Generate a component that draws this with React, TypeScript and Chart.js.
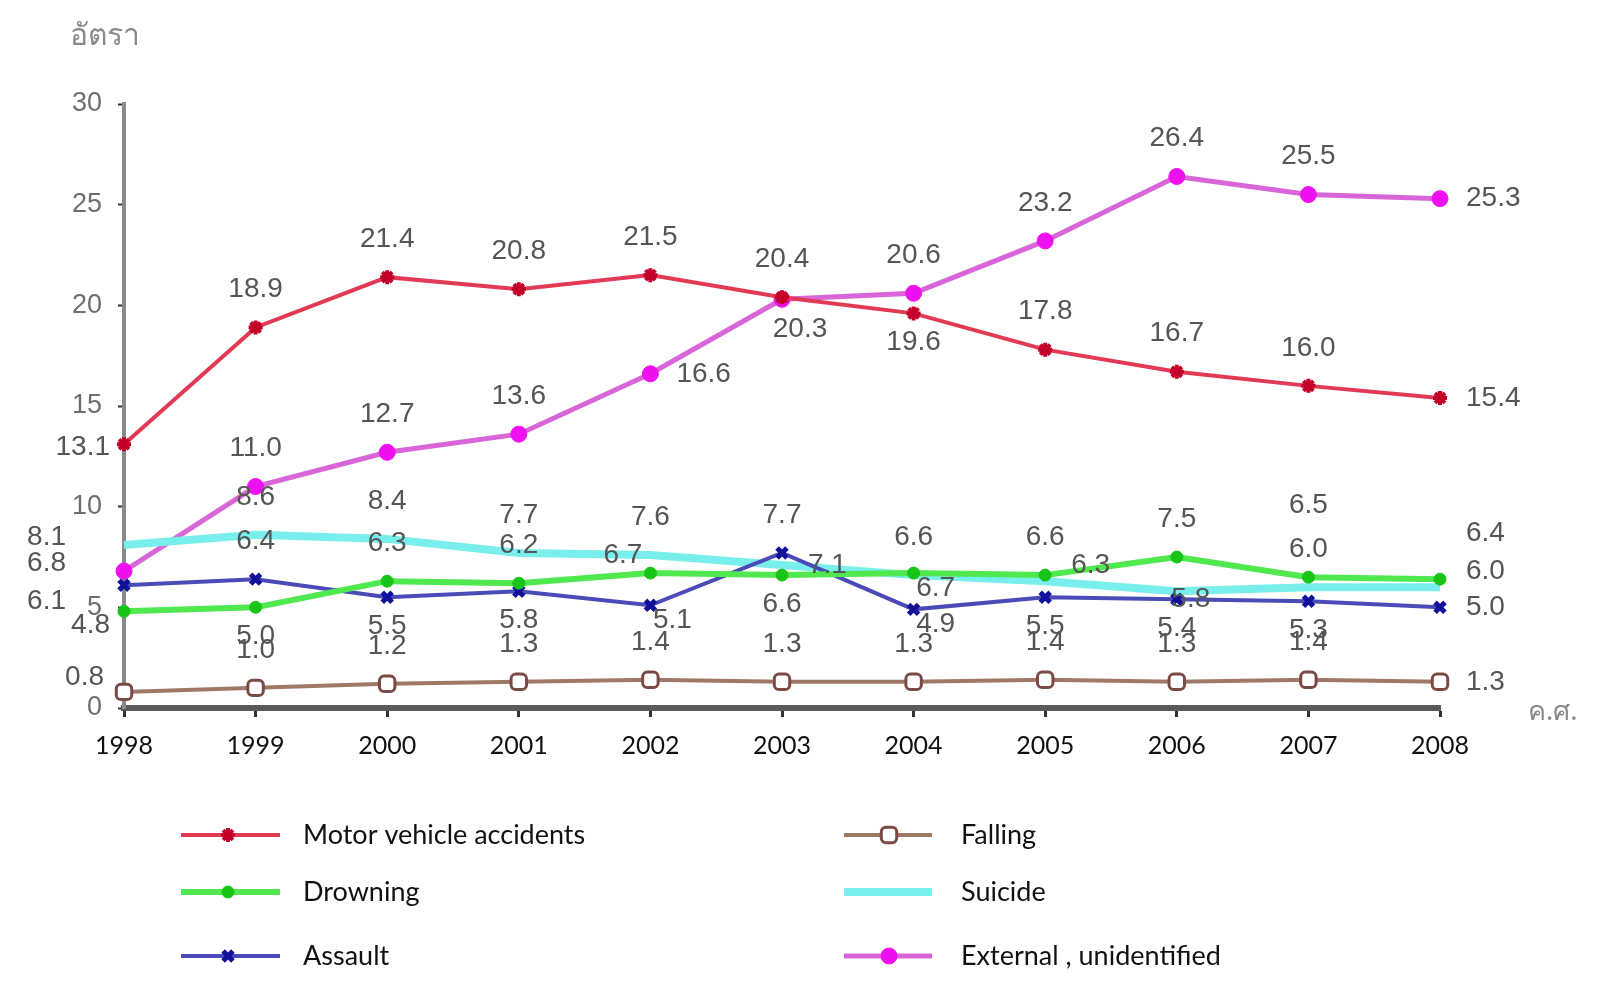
import React, { useEffect, useRef } from 'react';
import { Chart, registerables } from 'chart.js';
import { drawPoint } from 'chart.js/helpers';

Chart.register(...registerables);

const YEARS = ['1998', '1999', '2000', '2001', '2002', '2003', '2004', '2005', '2006', '2007', '2008'];
const MOTOR = [13.1, 18.9, 21.4, 20.8, 21.5, 20.4, 19.6, 17.8, 16.7, 16.0, 15.4];
const DROWNING = [4.8, 5.0, 6.3, 6.2, 6.7, 6.6, 6.7, 6.6, 7.5, 6.5, 6.4];
const ASSAULT = [6.1, 6.4, 5.5, 5.8, 5.1, 7.7, 4.9, 5.5, 5.4, 5.3, 5.0];
const FALLING = [0.8, 1.0, 1.2, 1.3, 1.4, 1.3, 1.3, 1.4, 1.3, 1.4, 1.3];
const SUICIDE = [8.1, 8.6, 8.4, 7.7, 7.6, 7.1, 6.6, 6.3, 5.8, 6.0, 6.0];
const EXTERNAL = [6.8, 11.0, 12.7, 13.6, 16.6, 20.3, 20.6, 23.2, 26.4, 25.5, 25.3];
const Y_TICKS = [0, 5, 10, 15, 20, 25, 30];
const Y_TITLE = 'อัตรา';
const X_TITLE = 'ค.ศ.';

// label placement codes: [dx, dy, align]
const CODES: Record<string, [number, number, CanvasTextAlign]> = {
  a: [0, -38, 'center'],
  A: [0, -72, 'center'],
  b: [0, 29, 'center'],
  bs: [22, 15, 'center'],
  bm: [18, 30, 'center'],
  c: [14, 8, 'center'],
  r: [26, 0, 'left'],
  rm: [26, -16, 'left'],
  R: [26, -46, 'left'],
  l: [-58, -8, 'right'],
  lb: [-58, 16, 'right'],
  ll: [-8, -18, 'right'],
  L: [-14, 3, 'right'],
  Lb: [-14, 14, 'right'],
  Lu: [-20, -15, 'right'],
};

const SERIES = [
  { name: 'Motor vehicle accidents', values: MOTOR, line: '#e23a55', lw: 4, ps: 'star', pr: 7, pf: '#c3002a', pb: '#c3002a', pbw: 4,
    place: ['L', 'a', 'a', 'a', 'a', 'a', 'b', 'a', 'a', 'a', 'r'] },
  { name: 'Drowning', values: DROWNING, line: '#4fe84f', lw: 6, ps: 'circle', pr: 6, pf: '#17c417', pb: '#17c417', pbw: 1,
    place: ['Lb', 'b', 'a', 'a', 'll', 'b', 'bs', 'a', 'a', 'A', 'R'] },
  { name: 'Assault', values: ASSAULT, line: '#4b4bb8', lw: 4, ps: 'crossRot', pr: 7, pf: '#10109a', pb: '#10109a', pbw: 5,
    place: ['lb', 'a', 'b', 'b', 'bs', 'a', 'bs', 'b', 'b', 'b', 'r'] },
  { name: 'Falling', values: FALLING, line: '#a07868', lw: 4, ps: 'rectRounded', pr: 9, pf: '#ffffff', pb: '#7a4a44', pbw: 3,
    place: ['Lu', 'a', 'a', 'a', 'a', 'a', 'a', 'a', 'a', 'a', 'r'] },
  { name: 'Suicide', values: SUICIDE, line: '#78efec', lw: 8, ps: 'circle', pr: 0, pf: '#78efec', pb: '#78efec', pbw: 0,
    place: ['l', 'a', 'a', 'a', 'a', 'r', 'a', 'rm', 'c', 'a', 'rm'] },
  { name: 'External , unidentified', values: EXTERNAL, line: '#d866d8', lw: 5, ps: 'circle', pr: 8, pf: '#ee10ee', pb: '#ee10ee', pbw: 1,
    place: ['l', 'a', 'a', 'a', 'r', 'bm', 'a', 'a', 'a', 'a', 'r'] },
];

const LEGEND_ROWS = [835, 892, 956];
const LEGEND_COLS = [
  { x0: 181, x1: 280, mx: 228, tx: 303, items: [0, 1, 2] },
  { x0: 844, x1: 932, mx: 889, tx: 961, items: [3, 4, 5] },
];

const fmt = (v: number) => v.toFixed(1);

export default function App() {
  const ref = useRef<HTMLCanvasElement>(null);
  useEffect(() => {
    document.body.style.margin = '0';
    const canvas = ref.current!;

    const labelsPlugin = {
      id: 'labelsPlugin',
      afterDatasetsDraw(chart: any) {
        const ctx = chart.ctx;
        ctx.save();
        ctx.font = '28px "Liberation Sans", Arial, sans-serif';
        ctx.fillStyle = '#555';
        ctx.textBaseline = 'middle';
        SERIES.forEach((s, di) => {
          const meta = chart.getDatasetMeta(di);
          meta.data.forEach((pt: any, i: number) => {
            const c = CODES[s.place[i]] || CODES.a;
            ctx.textAlign = c[2];
            ctx.fillText(fmt(s.values[i]), pt.x + c[0], pt.y + c[1]);
          });
        });
        ctx.restore();
      },
      afterDraw(chart: any) {
        const ctx = chart.ctx;
        ctx.save();
        // titles
        ctx.fillStyle = '#8a8a8a';
        ctx.textAlign = 'left';
        ctx.textBaseline = 'middle';
        ctx.font = '30px "Noto Sans", "DejaVu Sans", sans-serif';
        ctx.fillText(Y_TITLE, 70, 36);
        ctx.font = '27px "Noto Sans", "DejaVu Sans", sans-serif';
        ctx.fillText(X_TITLE, 1528, 712);
        // legend
        LEGEND_COLS.forEach((col) => {
          col.items.forEach((di, r) => {
            const s = SERIES[di];
            const y = LEGEND_ROWS[r];
            ctx.strokeStyle = s.line;
            ctx.lineWidth = s.lw;
            ctx.beginPath();
            ctx.moveTo(col.x0, y);
            ctx.lineTo(col.x1, y);
            ctx.stroke();
            if (s.pr > 0) {
              ctx.fillStyle = s.pf;
              ctx.strokeStyle = s.pb;
              ctx.lineWidth = s.pbw;
              drawPoint(ctx, { pointStyle: s.ps as any, radius: s.pr, rotation: 0, borderWidth: s.pbw }, col.mx, y);
            }
            ctx.fillStyle = '#111';
            ctx.font = '27px Lato, "Open Sans", sans-serif';
            ctx.textAlign = 'left';
            ctx.textBaseline = 'middle';
            ctx.fillText(s.name, col.tx, y);
          });
        });
        ctx.restore();
      },
    };

    const chart = new Chart(canvas, {
      type: 'line',
      data: {
        labels: YEARS,
        datasets: SERIES.map((s) => ({
          label: s.name,
          data: s.values,
          borderColor: s.line,
          backgroundColor: s.pf,
          borderWidth: s.lw,
          pointStyle: s.ps as any,
          pointRadius: s.pr,
          pointHoverRadius: s.pr,
          pointBackgroundColor: s.pf,
          pointBorderColor: s.pb,
          pointBorderWidth: s.pbw,
          tension: 0,
          clip: false as any,
        })),
      },
      options: {
        responsive: false,
        animation: false,
        devicePixelRatio: 1,
        layout: { padding: { left: 0, right: 182, top: 104, bottom: 0 } },
        plugins: { legend: { display: false }, tooltip: { enabled: false }, title: { display: false } },
        scales: {
          x: {
            offset: false,
            ticks: { color: '#111', font: { family: 'Lato', size: 25 }, padding: 14, maxRotation: 0, autoSkip: false },
            grid: { drawOnChartArea: false, drawTicks: true, tickLength: 9, color: '#333', tickWidth: 3 },
            border: { color: '#5a5a5a', width: 6 },
            afterFit: (s: any) => { s.height = 292; },
          },
          y: {
            min: 0,
            max: 30,
            afterBuildTicks: (s: any) => { s.ticks = Y_TICKS.map((v) => ({ value: v })); },
            ticks: { color: '#6e6e6e', font: { family: 'Liberation Sans', size: 27 }, padding: 16 },
            grid: { drawOnChartArea: false, drawTicks: true, tickLength: 6, color: '#333', tickWidth: 2 },
            border: { color: '#8a8a8a', width: 4 },
            afterFit: (s: any) => { s.width = 124; },
          },
        },
      },
      plugins: [labelsPlugin],
    });
    return () => chart.destroy();
  }, []);
  return (
    <div style={{ width: 1622, height: 1000, background: '#fff' }}>
      <canvas ref={ref} width={1622} height={1000} style={{ display: 'block' }} />
    </div>
  );
}
